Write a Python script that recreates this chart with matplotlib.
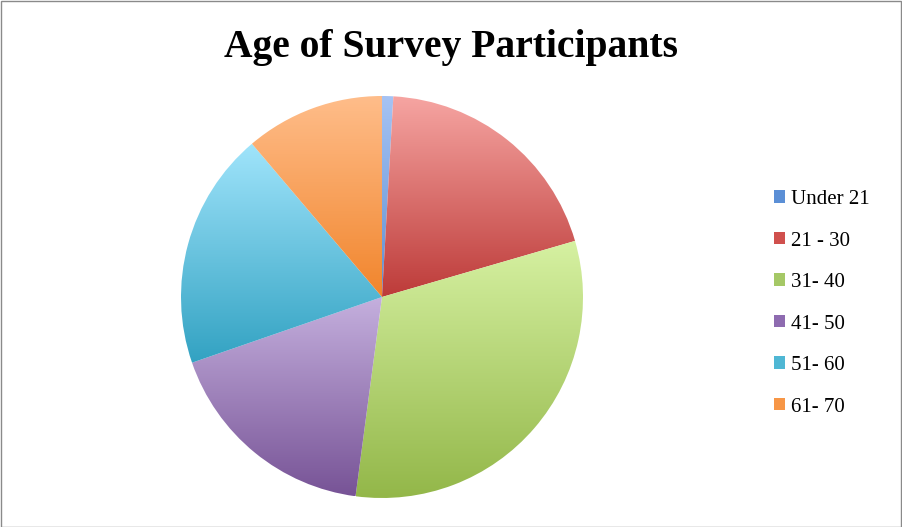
import numpy as np
import matplotlib
matplotlib.use("Agg")
import matplotlib.pyplot as plt
from matplotlib.colors import LinearSegmentedColormap
from matplotlib.patches import Patch, Rectangle

categories = ["Under 21", "21 - 30", "31- 40", "41- 50", "51- 60", "61- 70"]
shares = [0.9, 19.6, 31.6, 17.6, 19.1, 11.2]
top_colors = ["#a6c3f4", "#f6a5a2", "#d6f1a2", "#c5b0de", "#a0e4fb", "#ffbd8a"]
bottom_colors = ["#5f8fd0", "#bd3b39", "#93b749", "#775396", "#32a2c2", "#f1852c"]
mid_colors = ["#5b8fd6", "#d0504d", "#a5c866", "#8e6bb0", "#4fb7d4", "#f79646"]

fig = plt.figure(figsize=(9.02, 5.27), dpi=100)
W, H = 902, 527
cx, cy, r = 382, 230, 201
ax = fig.add_axes([(cx - r) / W, (cy - r) / H, 2 * r / W, 2 * r / H])
wedges, _ = ax.pie(shares, startangle=90, counterclock=False, radius=1.0,
                   colors=mid_colors, wedgeprops=dict(linewidth=0))
ax.set_xlim(-1, 1)
ax.set_ylim(-1, 1)
ax.set_aspect("equal")
ax.axis("off")

grad = np.linspace(0, 1, 256).reshape(-1, 1)
for w, tc, bc in zip(wedges, top_colors, bottom_colors):
    path = w.get_path().transformed(w.get_patch_transform())
    ext = path.get_extents()
    cmap = LinearSegmentedColormap.from_list("g", [bc, tc])
    im = ax.imshow(grad, cmap=cmap, origin="lower", aspect="auto",
                   extent=[ext.x0, ext.x1, ext.y0, ext.y1], zorder=1,
                   interpolation="bilinear")
    im.set_clip_path(w)
    w.set_facecolor("none")
ax.set_xlim(-1, 1)
ax.set_ylim(-1, 1)

fig.text(0.5, 1 - 48 / H, "Age of Survey Participants", ha="center", va="center",
         fontsize=28.5, fontweight="bold", family="Liberation Serif")

handles = [Patch(facecolor=c, edgecolor="none") for c in mid_colors]
leg = fig.legend(handles, categories, loc="upper left",
                 bbox_to_anchor=(774 / W, 1 - 190 / H), frameon=False,
                 prop={"family": "Liberation Serif", "size": 15},
                 handlelength=0.55, handleheight=0.55, handletextpad=0.25,
                 labelspacing=1.08, borderaxespad=0, borderpad=0)

fig.patches.append(Rectangle((0.5 / W, 0.5 / H), 1 - 1.5 / W, 1 - 1.5 / H,
                             transform=fig.transFigure, fill=False,
                             edgecolor="#8a8a8a", linewidth=1))
fig.savefig("out.png", dpi=100)
